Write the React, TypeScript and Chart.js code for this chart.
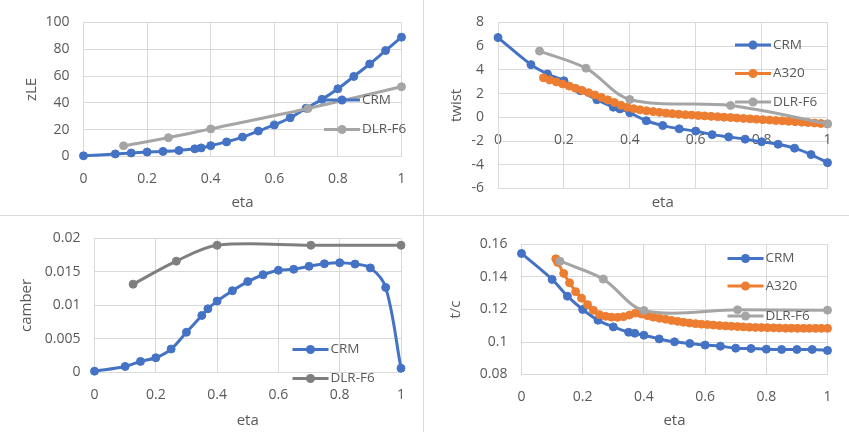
import React, { useEffect, useRef } from "react";
import { Chart, registerables } from "chart.js";
Chart.register(...registerables);

const FONT = '"Open Sans", "DejaVu Sans", sans-serif';
const TEXT = "#595959";
const GRID = "#d9d9d9";
const BLUE = "#4472C4";
const ORANGE = "#ED7D31";
const GRAY = "#A5A5A5";
const DARKGRAY = "#7F7F7F";

// ---- data ----
const crmEta = [0, 0.1, 0.15, 0.2, 0.25, 0.3, 0.35, 0.37, 0.4, 0.45, 0.5, 0.55, 0.6, 0.65, 0.7, 0.75, 0.8, 0.85, 0.9, 0.95, 1];
const dlrEta = [0.126, 0.267, 0.4, 0.706, 1];
const a320Eta = [
  0.112, 0.118, 0.138, 0.157, 0.177, 0.196, 0.216, 0.235, 0.255, 0.275, 0.294, 0.314, 0.333, 0.353, 0.373, 0.392,
  0.412, 0.431, 0.451, 0.471, 0.49, 0.51, 0.529, 0.549, 0.569, 0.588, 0.608, 0.627, 0.647, 0.667, 0.686, 0.706,
  0.725, 0.745, 0.765, 0.784, 0.804, 0.824, 0.843, 0.863, 0.882, 0.902, 0.922, 0.941, 0.961, 0.98, 1.0,
];
const a320TwistEta = a320Eta.slice(2);

const crmZLE = [0.5, 1.9, 2.6, 3.3, 3.8, 4.5, 5.7, 6.4, 8.1, 10.9, 14.5, 19, 23.5, 28.9, 36, 42.6, 50.5, 59.7, 69, 79, 89];
const dlrZLE = [8, 14, 20.6, 35.8, 52];

const crmTwist = [6.72, 4.44, 3.65, 3.08, 2.24, 1.48, 0.85, 0.71, 0.39, -0.29, -0.7, -0.97, -1.16, -1.46, -1.65, -1.84, -2.06, -2.27, -2.6, -3.14, -3.82];
const a320Twist = [
  3.33, 3.15, 2.98, 2.81, 2.63, 2.45, 2.27, 2.08, 1.88, 1.68,
  1.47, 1.25, 1.02, 0.84, 0.72, 0.63, 0.55, 0.48, 0.42, 0.36,
  0.31, 0.26, 0.22, 0.19, 0.15, 0.12, 0.08, 0.05, 0.01, -0.02,
  -0.06, -0.09, -0.13, -0.16, -0.2, -0.23, -0.27, -0.3, -0.34, -0.37,
  -0.41, -0.44, -0.48, -0.52, -0.56,
];
const dlrTwist = [5.58, 4.14, 1.5, 1.0, -0.54];

const crmCamber = [0.0002, 0.0009, 0.00165, 0.0022, 0.0035, 0.006, 0.0085, 0.0095, 0.01065, 0.0122, 0.01356, 0.01458, 0.01525, 0.0154, 0.01584, 0.01622, 0.01637, 0.01617, 0.0156, 0.01269, 0.00063];
const dlrCamber = [0.01317, 0.01661, 0.01898, 0.01898, 0.01898];

const crmTC = [0.1545, 0.1385, 0.1282, 0.12, 0.1134, 0.1093, 0.106, 0.1054, 0.1042, 0.1019, 0.1001, 0.0991, 0.0981, 0.0974, 0.0962, 0.096, 0.0956, 0.0954, 0.0954, 0.0954, 0.0948];
const a320TC = [
  0.1512, 0.149, 0.1422, 0.1364, 0.131, 0.127, 0.123, 0.1195, 0.1168, 0.1158,
  0.1153, 0.1152, 0.1156, 0.1166, 0.1178, 0.1172, 0.1162, 0.1153, 0.1146, 0.114,
  0.1133, 0.1127, 0.1122, 0.1117, 0.1113, 0.111, 0.1107, 0.1104, 0.1101, 0.1099,
  0.1097, 0.1095, 0.1093, 0.1091, 0.109, 0.1089, 0.1088, 0.1087, 0.1086, 0.1085,
  0.1085, 0.1084, 0.1084, 0.1084, 0.1084, 0.1084, 0.1084,
];
const dlrTC = [0.1497, 0.1387, 0.1194, 0.1198, 0.1196];

type Series = { label: string; xs: number[]; ys: number[]; color: string };
type Spec = {
  x: number; y: number; w: number; h: number;
  left: number; right: number; top: number; bottom: number;
  xAtZero?: boolean;
  yMin: number; yMax: number; yStep: number;
  yTitle: string; yTitleX: number; xTitleY: number;
  legendX: number; legendY: number[];
  series: Series[];
};

const fmt = (v: any) => String(Number(Number(v).toPrecision(8)));

const specs: Spec[] = [
  {
    x: 0, y: 0, w: 423, h: 215, left: 83.5, right: 401.5, top: 16, bottom: 156.5,
    yMin: 0, yMax: 100, yStep: 20, yTitle: "zLE", yTitleX: 32, xTitleY: 203,
    legendX: 324, legendY: [100, 129.5],
    series: [
      { label: "CRM", xs: crmEta, ys: crmZLE, color: BLUE },
      { label: "DLR-F6", xs: dlrEta, ys: dlrZLE, color: GRAY },
    ],
  },
  {
    x: 424, y: 0, w: 425, h: 215, left: 74, right: 403.5, top: 16.5, bottom: 188.5, xAtZero: true,
    yMin: -6, yMax: 8, yStep: 2, yTitle: "twist", yTitleX: 33, xTitleY: 203,
    legendX: 311, legendY: [45, 73.5, 102],
    series: [
      { label: "CRM", xs: crmEta, ys: crmTwist, color: BLUE },
      { label: "A320", xs: a320TwistEta, ys: a320Twist, color: ORANGE },
      { label: "DLR-F6", xs: dlrEta, ys: dlrTwist, color: GRAY },
    ],
  },
  {
    x: 0, y: 216, w: 423, h: 216, left: 94.5, right: 401, top: 19, bottom: 156.5,
    yMin: 0, yMax: 0.02, yStep: 0.005, yTitle: "camber", yTitleX: 27, xTitleY: 205,
    legendX: 292.5, legendY: [133.5, 162.5],
    series: [
      { label: "CRM", xs: crmEta, ys: crmCamber, color: BLUE },
      { label: "DLR-F6", xs: dlrEta, ys: dlrCamber, color: DARKGRAY },
    ],
  },
  {
    x: 424, y: 216, w: 425, h: 216, left: 97.5, right: 403.5, top: 28.5, bottom: 158.5,
    yMin: 0.08, yMax: 0.16, yStep: 0.02, yTitle: "t/c", yTitleX: 32, xTitleY: 205,
    legendX: 303.5, legendY: [42.5, 70, 100],
    series: [
      { label: "CRM", xs: crmEta, ys: crmTC, color: BLUE },
      { label: "A320", xs: a320Eta, ys: a320TC, color: ORANGE },
      { label: "DLR-F6", xs: dlrEta, ys: dlrTC, color: GRAY },
    ],
  },
];

function Panel({ spec, idx }: { spec: Spec; idx: number }) {
  const ref = useRef<HTMLCanvasElement | null>(null);
  useEffect(() => {
    if (!ref.current) return;
    const font = { family: FONT, size: 14 };
    const decor = {
      id: "decor" + idx,
      afterDraw(chart: any) {
        const ctx = chart.ctx as CanvasRenderingContext2D;
        const ca = chart.chartArea;
        ctx.save();
        ctx.fillStyle = TEXT;
        ctx.font = `15px ${FONT}`;
        ctx.textAlign = "center";
        ctx.textBaseline = "middle";
        ctx.fillText("eta", (ca.left + ca.right) / 2, spec.xTitleY);
        ctx.translate(spec.yTitleX, (ca.top + ca.bottom) / 2);
        ctx.rotate(-Math.PI / 2);
        ctx.fillText(spec.yTitle, 0, 0);
        ctx.restore();
        spec.series.forEach((s, i) => {
          const y = spec.legendY[i];
          const x0 = spec.legendX;
          ctx.save();
          ctx.strokeStyle = s.color;
          ctx.lineWidth = 3;
          ctx.beginPath();
          ctx.moveTo(x0, y);
          ctx.lineTo(x0 + 36, y);
          ctx.stroke();
          ctx.fillStyle = s.color;
          ctx.beginPath();
          ctx.arc(x0 + 18, y, 4.5, 0, Math.PI * 2);
          ctx.fill();
          ctx.fillStyle = TEXT;
          ctx.font = `13.5px ${FONT}`;
          ctx.textAlign = "left";
          ctx.textBaseline = "middle";
          ctx.fillText(s.label, x0 + 38, y);
          ctx.restore();
        });
      },
    };
    const n = spec.series.length;
    const chart = new Chart(ref.current, {
      type: "scatter",
      data: {
        datasets: spec.series.map((s, i) => ({
          label: s.label,
          data: s.xs.map((x, j) => ({ x, y: s.ys[j] })),
          showLine: true,
          borderColor: s.color,
          backgroundColor: s.color,
          borderWidth: 3,
          pointRadius: 4,
          pointBorderWidth: 1,
          pointBorderColor: s.color,
          pointBackgroundColor: s.color,
          tension: 0.33,
          clip: false as any,
          order: n - i,
        })),
      },
      options: {
        animation: false,
        responsive: false,
        maintainAspectRatio: false,
        devicePixelRatio: 1,
        events: [],
        layout: {
          padding: {
            left: 0,
            top: spec.top,
            right: spec.w - spec.right,
            bottom: spec.xAtZero ? spec.h - spec.bottom : 0,
          },
        },
        plugins: { legend: { display: false }, tooltip: { enabled: false }, title: { display: false } },
        scales: {
          x: {
            type: "linear",
            min: 0,
            max: 1,
            position: (spec.xAtZero ? { y: 0 } : "bottom") as any,
            ticks: { stepSize: 0.2, color: TEXT, font, padding: 14, callback: fmt, maxRotation: 0, autoSkip: false },
            grid: { color: GRID, drawTicks: false },
            border: { color: GRID },
            afterFit: (s: any) => {
              if (!spec.xAtZero) s.height = spec.h - spec.bottom;
            },
          },
          y: {
            type: "linear",
            min: spec.yMin,
            max: spec.yMax,
            ticks: { stepSize: spec.yStep, color: TEXT, font, padding: 14, callback: fmt },
            grid: { color: GRID, drawTicks: false },
            border: { color: GRID },
            afterFit: (s: any) => {
              s.width = spec.left;
            },
          },
        },
      },
      plugins: [decor],
    } as any);
    return () => chart.destroy();
  }, [spec, idx]);
  return (
    <canvas
      ref={ref}
      width={spec.w}
      height={spec.h}
      style={{ position: "absolute", left: spec.x, top: spec.y, width: spec.w, height: spec.h }}
    />
  );
}

export default function App() {
  return (
    <div style={{ position: "absolute", left: 0, top: 0, width: 849, height: 432, background: "#fff", overflow: "hidden" }}>
      {specs.map((s, i) => (
        <Panel key={i} spec={s} idx={i} />
      ))}
      <div style={{ position: "absolute", left: 423, top: 0, width: 1, height: 432, background: GRID }} />
      <div style={{ position: "absolute", left: 0, top: 215, width: 849, height: 1, background: GRID }} />
    </div>
  );
}
